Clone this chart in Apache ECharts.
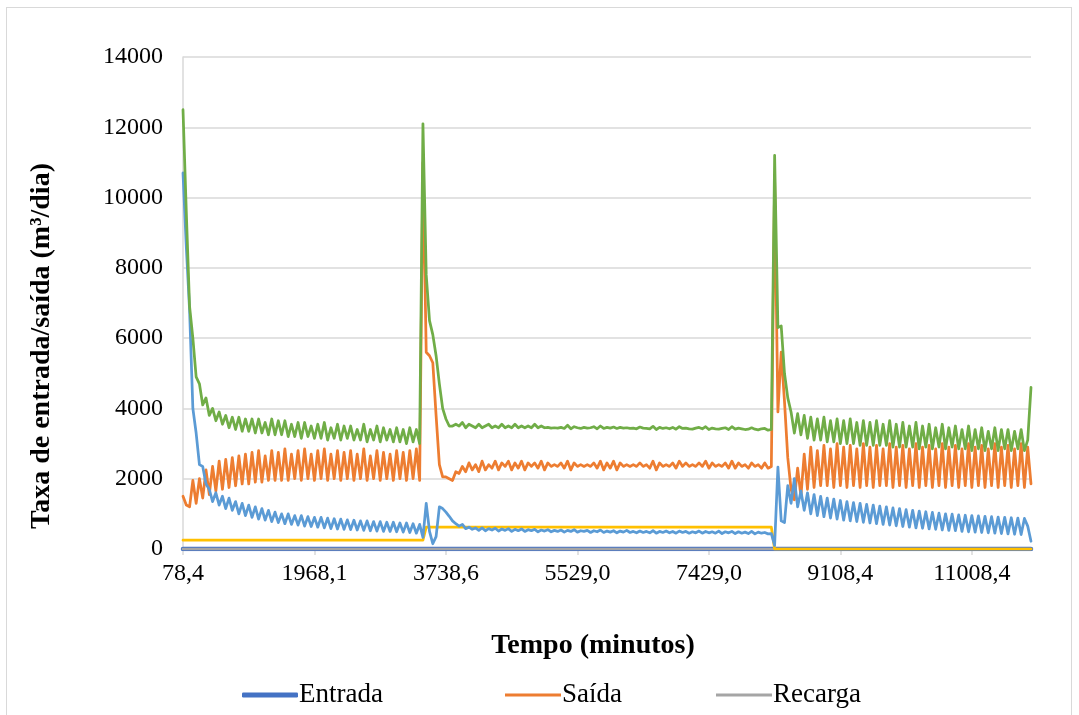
<!DOCTYPE html>
<html><head><meta charset="utf-8">
<script src="https://cdn.jsdelivr.net/npm/echarts@6/dist/echarts.min.js"></script>
<style>
html,body{margin:0;padding:0;background:#fff;}
#frame{position:absolute;left:6px;top:7px;width:1066px;height:760px;border:1px solid #d9d9d9;box-sizing:border-box;}
#chart{position:absolute;left:0;top:0;width:1079px;height:715px;}
</style>
</head><body><div id="frame"></div><div id="chart"></div>
<script>
const tickLabels = ['78,4','1968,1','3738,6','5529,0','7429,0','9108,4','11008,4'];
const yTicks = [0,2000,4000,6000,8000,10000,12000,14000];
const legendNames = ['Entrada','Saída','Recarga'];

const entrada = [
0,0,0,0,0,0,0,0,0,0, 0,0,0,0,0,0,0,0,0,0, 0,0,0,0,0,0,0,0,0,0, 0,0,0,0,0,0,0,0,0,0,
0,0,0,0,0,0,0,0,0,0, 0,0,0,0,0,0,0,0,0,0, 0,0,0,0,0,0,0,0,0,0, 0,0,0,0,0,0,0,0,0,0,
0,0,0,0,0,0,0,0,0,0, 0,0,0,0,0,0,0,0,0,0, 0,0,0,0,0,0,0,0,0,0, 0,0,0,0,0,0,0,0,0,0,
0,0,0,0,0,0,0,0,0,0, 0,0,0,0,0,0,0,0,0,0, 0,0,0,0,0,0,0,0,0,0, 0,0,0,0,0,0,0,0,0,0,
0,0,0,0,0,0,0,0,0,0, 0,0,0,0,0,0,0,0,0,0, 0,0,0,0,0,0,0,0,0,0, 0,0,0,0,0,0,0,0,0,0,
0,0,0,0,0,0,0,0,0,0, 0,0,0,0,0,0,0,0,0,0, 0,0,0,0,0,0,0,0,0,0, 0,0,0,0,0,0,0,0,0,0,
0,0,0,0,0,0,0,0,0,0, 0,0,0,0,0,0,0,0,0
];
const saida = [
1500,1250,1200,1950,1300,2000,1450,2250,1550,2350,
1650,2500,1700,2550,1750,2600,1800,2650,1850,2700,
1850,2750,1900,2800,1900,2650,1950,2800,1950,2750,
1950,2850,1950,2700,2000,2800,1950,2850,2000,2700,
1950,2800,2000,2850,1950,2700,2000,2800,1950,2750,
2000,2800,1950,2700,2000,2850,1950,2650,2000,2800,
1950,2750,2000,2700,1950,2800,2000,2750,1950,2800,
2000,2850,1950,11000,5600,5500,5300,3800,2400,2050,
2050,2000,1950,2200,2150,2350,2200,2450,2250,2400,
2200,2500,2250,2400,2300,2500,2250,2450,2350,2500,
2250,2450,2300,2500,2250,2450,2350,2450,2300,2500,
2250,2450,2350,2400,2350,2450,2300,2500,2250,2450,
2350,2400,2350,2400,2350,2450,2300,2500,2250,2450,
2300,2500,2250,2450,2350,2400,2350,2400,2350,2450,
2350,2400,2300,2500,2250,2450,2350,2400,2350,2450,
2300,2500,2350,2450,2350,2400,2350,2450,2350,2500,
2300,2450,2350,2400,2350,2450,2300,2500,2300,2450,
2350,2400,2300,2450,2350,2400,2300,2450,2300,2350,
10500,3900,5600,4200,2600,1700,1400,2300,1500,2700,
1700,2900,1750,2800,1800,2950,1800,2850,1750,3000,
1800,2900,1750,2950,1800,2850,1750,3000,1800,2900,
1750,2950,1800,2850,1800,3000,1750,2900,1800,2950,
1750,2850,1800,3000,1750,2900,1800,2950,1750,2850,
1800,3000,1750,2900,1800,2950,1750,2850,1800,3000,
1750,2900,1800,2950,1750,2850,1800,3000,1750,2900,
1800,2950,1750,2850,1800,3000,1750,2900,1850
];
const recarga = [
0,0,0,0,0,0,0,0,0,0, 0,0,0,0,0,0,0,0,0,0, 0,0,0,0,0,0,0,0,0,0, 0,0,0,0,0,0,0,0,0,0,
0,0,0,0,0,0,0,0,0,0, 0,0,0,0,0,0,0,0,0,0, 0,0,0,0,0,0,0,0,0,0, 0,0,0,0,0,0,0,0,0,0,
0,0,0,0,0,0,0,0,0,0, 0,0,0,0,0,0,0,0,0,0, 0,0,0,0,0,0,0,0,0,0, 0,0,0,0,0,0,0,0,0,0,
0,0,0,0,0,0,0,0,0,0, 0,0,0,0,0,0,0,0,0,0, 0,0,0,0,0,0,0,0,0,0, 0,0,0,0,0,0,0,0,0,0,
0,0,0,0,0,0,0,0,0,0, 0,0,0,0,0,0,0,0,0,0, 0,0,0,0,0,0,0,0,0,0, 0,0,0,0,0,0,0,0,0,0,
0,0,0,0,0,0,0,0,0,0, 0,0,0,0,0,0,0,0,0,0, 0,0,0,0,0,0,0,0,0,0, 0,0,0,0,0,0,0,0,0,0,
0,0,0,0,0,0,0,0,0,0, 0,0,0,0,0,0,0,0,0
];
const serie4 = [
250,250,250,250,250,250,250,250,250,250, 250,250,250,250,250,250,250,250,250,250,
250,250,250,250,250,250,250,250,250,250, 250,250,250,250,250,250,250,250,250,250,
250,250,250,250,250,250,250,250,250,250, 250,250,250,250,250,250,250,250,250,250,
250,250,250,250,250,250,250,250,250,250,
250,250,250,250,620,620,620,620,620,620,
620,620,620,620,620,620,620,620,620,620, 620,620,620,620,620,620,620,620,620,620,
620,620,620,620,620,620,620,620,620,620, 620,620,620,620,620,620,620,620,620,620,
620,620,620,620,620,620,620,620,620,620, 620,620,620,620,620,620,620,620,620,620,
620,620,620,620,620,620,620,620,620,620, 620,620,620,620,620,620,620,620,620,620,
620,620,620,620,620,620,620,620,620,620, 620,620,620,620,620,620,620,620,620,620,
0,0,0,0,0,0,0,0,0,0, 0,0,0,0,0,0,0,0,0,0, 0,0,0,0,0,0,0,0,0,0, 0,0,0,0,0,0,0,0,0,0,
0,0,0,0,0,0,0,0,0,0, 0,0,0,0,0,0,0,0,0,0, 0,0,0,0,0,0,0,0,0,0,
0,0,0,0,0,0,0,0,0
];
const serie5 = [
10700,8600,6800,4000,3300,2400,2350,1850,1700,1350,
1600,1250,1500,1150,1450,1100,1350,1000,1300,950,
1250,900,1200,850,1150,820,1100,780,1050,750,
1000,720,1000,700,950,680,950,650,920,640,
900,620,900,600,880,580,860,570,850,560,
830,550,820,540,800,530,800,520,780,510,
780,500,760,500,760,490,740,480,740,470,
720,450,700,330,1300,500,150,350,1200,1150,
1050,930,800,720,650,700,580,620,560,600,
530,600,520,580,540,590,510,570,530,580,
500,560,520,570,500,550,520,560,490,540,
510,550,490,530,500,540,480,530,500,550,
480,520,500,530,470,520,490,540,470,510,
480,520,460,510,480,530,470,500,460,510,
470,500,460,520,450,500,470,510,460,500,
450,510,470,500,450,490,460,510,450,500,
460,490,450,510,440,490,460,500,440,490,
450,480,440,500,430,480,450,470,430,440,
100,2330,800,750,1800,1300,2000,1200,1650,1100,
1600,1000,1550,950,1500,920,1450,880,1420,850,
1380,820,1350,800,1320,780,1300,760,1270,740,
1250,720,1220,700,1200,680,1170,660,1150,640,
1120,620,1100,600,1080,590,1060,570,1040,560,
1020,540,1000,530,990,520,970,500,960,490,
950,480,940,470,930,460,920,450,910,440,
900,430,890,420,880,410,870,650,220
];
const serie6 = [
12500,9600,6900,6000,4900,4700,4100,4300,3800,4000,
3650,3900,3550,3800,3450,3750,3400,3750,3350,3700,
3350,3700,3300,3700,3300,3600,3250,3700,3250,3650,
3250,3650,3200,3550,3200,3600,3150,3600,3200,3500,
3150,3550,3150,3600,3100,3450,3150,3550,3100,3500,
3150,3500,3100,3400,3100,3550,3050,3400,3100,3500,
3050,3450,3100,3400,3050,3450,3050,3400,3000,3450,
3050,3400,3000,12100,7800,6500,6100,5500,4700,4000,
3700,3500,3500,3550,3500,3600,3450,3550,3500,3450,
3550,3450,3500,3550,3450,3500,3450,3550,3450,3500,
3450,3550,3450,3500,3450,3500,3450,3550,3450,3500,
3450,3460,3440,3450,3440,3460,3430,3520,3420,3480,
3450,3430,3460,3440,3450,3480,3420,3500,3430,3460,
3440,3470,3430,3460,3440,3450,3430,3440,3420,3470,
3440,3430,3420,3490,3400,3460,3430,3450,3420,3460,
3410,3480,3430,3440,3420,3410,3440,3460,3420,3480,
3400,3440,3420,3410,3430,3450,3400,3480,3410,3440,
3420,3400,3410,3450,3410,3390,3420,3430,3380,3400,
11200,6300,6350,5000,4300,3900,3300,3850,3250,3800,
3150,3750,3100,3700,3100,3750,3050,3650,3050,3700,
3000,3650,3000,3700,3000,3600,2950,3650,2950,3600,
2950,3650,2950,3550,2950,3650,2900,3550,2900,3600,
2900,3500,2900,3600,2850,3500,2900,3550,2850,3450,
2900,3550,2850,3450,2900,3500,2850,3400,2850,3500,
2800,3400,2850,3450,2800,3350,2850,3450,2800,3400,
2850,3400,2800,3350,2850,3400,2800,3100,4600
];

const N = saida.length;
[entrada, recarga, serie4, serie5, serie6].forEach((a, k) => {
  if (a.length !== N) throw new Error('length mismatch in array ' + k + ': ' + a.length + ' vs ' + N);
});
const STEP = 40;
const categories = [];
for (let i = 0; i < N; i++) categories.push(i % STEP === 0 ? tickLabels[i / STEP] : 't' + i);

const FONT = '"Liberation Serif", "Times New Roman", serif';
const chart = echarts.init(document.getElementById('chart'), null, {renderer: 'canvas'});

function mkSeries(name, data, color, width) {
  return {name, type: 'line', data, showSymbol: false, symbol: 'none', animation: false,
    lineStyle: {color, width, cap: 'round', join: 'round'}, itemStyle: {color}};
}
function mkLegend(name, left, h, icon) {
  return {data: [{name, icon}], left, top: 675, itemWidth: 56, itemHeight: h, itemGap: 0,
    itemStyle: {borderWidth: 0},
    textStyle: {fontFamily: FONT, fontSize: 27, color: '#000', padding: [0, 0, 0, -4], lineHeight: 30},
    selectedMode: false};
}

chart.setOption({
  animation: false,
  backgroundColor: 'transparent',
  grid: {left: 183, right: 48, top: 57, bottom: 166, containLabel: false},
  xAxis: {
    type: 'category', data: categories, boundaryGap: false,
    axisLine: {show: true, lineStyle: {color: '#D9D9D9', width: 1.5}},
    axisTick: {show: true, interval: STEP - 1, length: 6, lineStyle: {color: '#D9D9D9', width: 1.5}},
    axisLabel: {interval: STEP - 1, fontFamily: FONT, fontSize: 24, color: '#000', margin: 13},
    splitLine: {show: false}
  },
  yAxis: {
    type: 'value', min: yTicks[0], max: yTicks[yTicks.length - 1], interval: 2000,
    axisLine: {show: true, lineStyle: {color: '#D9D9D9', width: 1.5}},
    axisTick: {show: false},
    axisLabel: {fontFamily: FONT, fontSize: 24, color: '#000', margin: 20, formatter: v => String(v)},
    splitLine: {show: true, lineStyle: {color: '#D9D9D9', width: 1.5}}
  },
  legend: [
    mkLegend(legendNames[0], 237, 5, 'roundRect'),
    mkLegend(legendNames[1], 500, 3, 'rect'),
    mkLegend(legendNames[2], 711, 3, 'rect')
  ],
  series: [
    mkSeries('Entrada', entrada, '#4472C4', 4.5),
    mkSeries('Saída', saida, '#ED7D31', 2.75),
    mkSeries('Recarga', recarga, '#A5A5A5', 2.75),
    mkSeries('Série 4', serie4, '#FFC000', 2.75),
    mkSeries('Série 5', serie5, '#5B9BD5', 2.75),
    mkSeries('Série 6', serie6, '#70AD47', 2.75)
  ],
  graphic: [
    {type: 'text', x: 42, y: 346, rotation: Math.PI / 2,
      style: {text: 'Taxa de entrada/saída (m³/dia)', align: 'center', verticalAlign: 'middle',
        font: 'bold 28px ' + FONT, fill: '#000'}},
    {type: 'text', x: 593, y: 646,
      style: {text: 'Tempo (minutos)', align: 'center', verticalAlign: 'middle',
        font: 'bold 28px ' + FONT, fill: '#000'}}
  ]
});
</script>
</body></html>
